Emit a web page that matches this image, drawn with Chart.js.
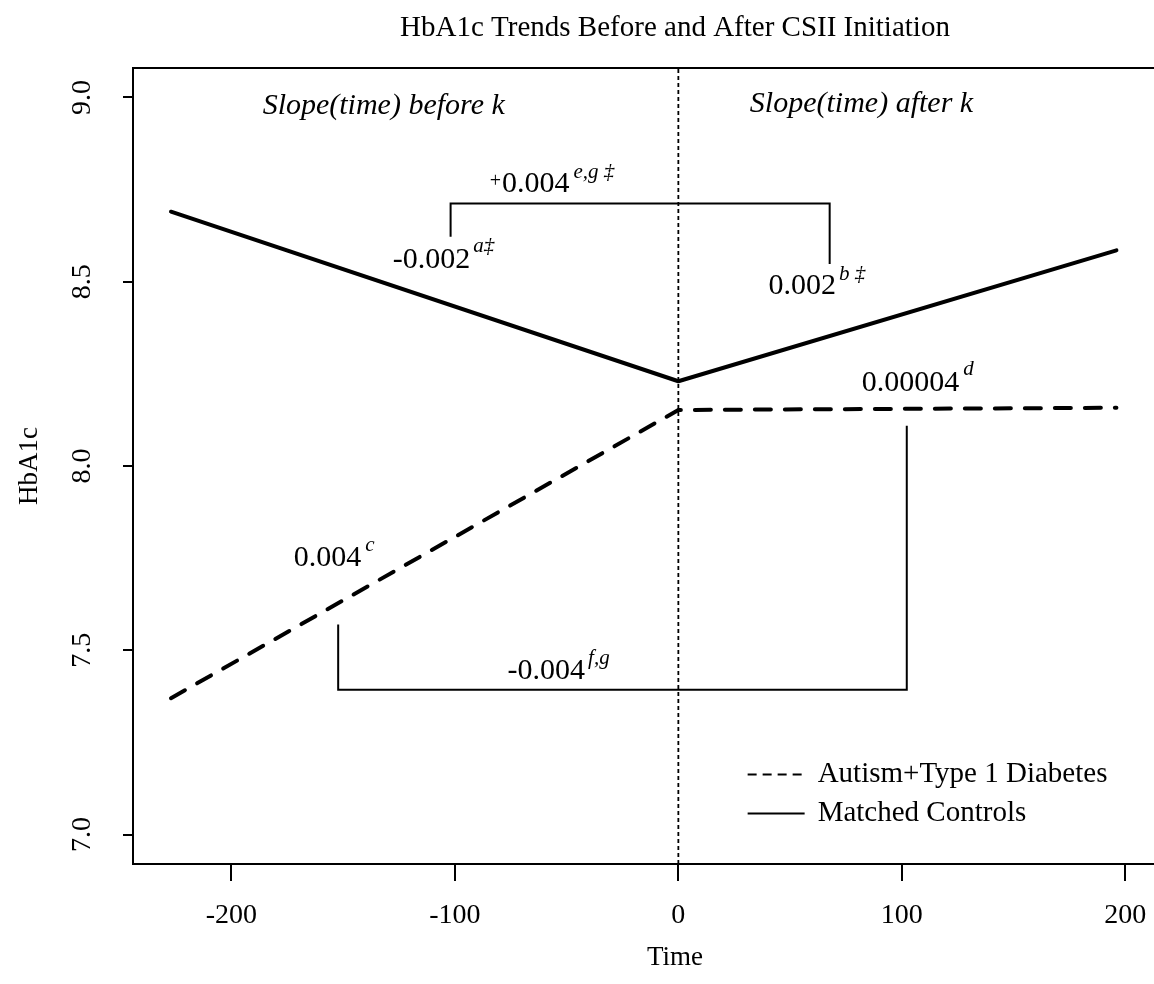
<!DOCTYPE html>
<html>
<head>
<meta charset="utf-8">
<title>HbA1c Trends Before and After CSII Initiation</title>
<script src="https://cdn.jsdelivr.net/npm/chart.js@4.4.1/dist/chart.umd.min.js"></script>
<style>
    html, body { margin: 0; padding: 0; background: #fff; overflow: hidden; }
    #wrap { width: 1350px; height: 984px; }
</style>
</head>
<body>
<div id="wrap"><canvas id="hba1c-chart" width="1350" height="984"></canvas></div>
<script>
// Main Declarations.
const timePoints = [-227, 0, 196];
const autismHbA1c = [7.37, 8.152, 8.158];
const controlHbA1c = [8.69, 8.23, 8.585];
const seriesLabels = ['Autism+Type 1 Diabetes', 'Matched Controls'];

const xTicks = [-200, -100, 0, 100, 200];
const yTicks = [7.0, 7.5, 8.0, 8.5, 9.0];
const xRange = [-244, 241];
const yRange = [6.92, 9.08];

// Brackets joining the slopes that are compared (data units).
const upperBracketX = [-101.9, -101.9, 67.7, 67.7];
const upperBracketY = [8.622, 8.712, 8.712, 8.548];
const lowerBracketX = [-152.2, -152.2, 102.2, 102.2];
const lowerBracketY = [7.57, 7.393, 7.393, 8.109];

const serif = 'Liberation Serif';

// Slope labels, anchored at their left edge in data units.
const annotations = [
    { x: -186, y: 8.976, parts: [{ text: 'Slope(time) before k', size: 30, italic: true }] },
    { x: 32, y: 8.981, parts: [{ text: 'Slope(time) after k', size: 30, italic: true }] },
    { x: -84.4, y: 8.766, parts: [
        { text: '+', size: 20, rise: 2, gap: 1 },
        { text: '0.004', size: 30, gap: 4 },
        { text: 'e,g \u2021', size: 21, italic: true, rise: 11 }] },
    { x: -127.8, y: 8.56, parts: [
        { text: '-0.002', size: 30, gap: 3 },
        { text: 'a\u2021', size: 21, italic: true, rise: 13 }] },
    { x: 40.3, y: 8.489, parts: [
        { text: '0.002', size: 30, gap: 3 },
        { text: 'b \u2021', size: 21, italic: true, rise: 11 }] },
    { x: 82, y: 8.226, parts: [
        { text: '0.00004', size: 30, gap: 4 },
        { text: 'd', size: 21, italic: true, rise: 13 }] },
    { x: -172.1, y: 7.75, parts: [
        { text: '0.004', size: 30, gap: 4 },
        { text: 'c', size: 21, italic: true, rise: 13 }] },
    { x: -76.4, y: 7.443, parts: [
        { text: '-0.004', size: 30, gap: 3 },
        { text: 'f,g', size: 21, italic: true, rise: 13 }] }
];

const legendAnchor = { x: 31, y: 7.163 };

function toPoints(xs, ys) {
    return xs.map((x, i) => ({ x: x, y: ys[i] }));
}

// Frame around the plot region.
const framePlugin = {
    id: 'frame',
    afterDraw(chart) {
        const { ctx, chartArea } = chart;
        ctx.save();
        ctx.strokeStyle = '#000';
        ctx.lineWidth = 2;
        ctx.strokeRect(chartArea.left, chartArea.top, chartArea.right - chartArea.left, chartArea.bottom - chartArea.top);
        ctx.restore();
    }
};

// Slope labels with superscripts.
const labelPlugin = {
    id: 'slopeLabels',
    afterDatasetsDraw(chart) {
        const { ctx, scales } = chart;
        ctx.save();
        ctx.fillStyle = '#000';
        ctx.textBaseline = 'middle';
        ctx.textAlign = 'left';
        annotations.forEach(a => {
            let cursor = scales.x.getPixelForValue(a.x);
            const y = scales.y.getPixelForValue(a.y);
            a.parts.forEach(p => {
                ctx.font = `${p.italic ? 'italic ' : ''}${p.size}px "${serif}"`;
                ctx.fillText(p.text, cursor, y - (p.rise || 0));
                cursor += ctx.measureText(p.text).width + (p.gap || 0);
            });
        });
        ctx.restore();
    }
};

// Legend inside the plot, no box.
const legendPlugin = {
    id: 'plotLegend',
    afterDraw(chart) {
        const { ctx, scales } = chart;
        const x0 = scales.x.getPixelForValue(legendAnchor.x);
        const y0 = scales.y.getPixelForValue(legendAnchor.y);
        const styles = [[9, 6], []];
        ctx.save();
        ctx.fillStyle = '#000';
        ctx.strokeStyle = '#000';
        ctx.lineWidth = 2;
        ctx.font = `29px "${serif}"`;
        ctx.textBaseline = 'middle';
        seriesLabels.forEach((label, i) => {
            const y = y0 + i * 39;
            ctx.setLineDash(styles[i]);
            ctx.beginPath();
            ctx.moveTo(x0, y);
            ctx.lineTo(x0 + 57, y);
            ctx.stroke();
            ctx.fillText(label, x0 + 70, y);
        });
        ctx.restore();
    }
};

const tickFont = { family: serif, size: 28 };
const titleFont = { family: serif, size: 27 };

new Chart(document.querySelector('#hba1c-chart'), {
    type: 'line',
    data: {
        datasets: [
            {
                label: 'CSII initiation',
                data: toPoints([0, 0], yRange),
                borderColor: '#000',
                borderWidth: 1.8,
                borderDash: [4, 3]
            },
            {
                label: seriesLabels[0],
                data: toPoints(timePoints, autismHbA1c),
                borderColor: '#000',
                borderWidth: 4,
                borderDash: [16, 14],
                borderCapStyle: 'round'
            },
            {
                label: seriesLabels[1],
                data: toPoints(timePoints, controlHbA1c),
                borderColor: '#000',
                borderWidth: 4,
                borderCapStyle: 'round',
                borderJoinStyle: 'round'
            },
            {
                label: 'before vs after',
                data: toPoints(upperBracketX, upperBracketY),
                borderColor: '#000',
                borderWidth: 2
            },
            {
                label: 'autism vs controls',
                data: toPoints(lowerBracketX, lowerBracketY),
                borderColor: '#000',
                borderWidth: 2
            }
        ]
    },
    options: {
        responsive: false,
        animation: false,
        events: [],
        layout: { padding: { left: 0, right: 133, top: 0, bottom: 0 } },
        elements: { point: { radius: 0 }, line: { tension: 0, fill: false } },
        plugins: {
            legend: { display: false },
            tooltip: { enabled: false },
            title: {
                display: true,
                fullSize: false,
                text: 'HbA1c Trends Before and After CSII Initiation',
                color: '#000',
                font: { family: serif, size: 29, weight: 'normal' },
                padding: { top: 11, bottom: 22.2 }
            }
        },
        scales: {
            x: {
                type: 'linear',
                min: xRange[0],
                max: xRange[1],
                afterBuildTicks: axis => { axis.ticks = xTicks.map(v => ({ value: v })); },
                afterFit: axis => { axis.height = 120; },
                border: { display: false },
                grid: { drawOnChartArea: false, drawTicks: true, tickLength: 17, color: '#000', lineWidth: 2 },
                ticks: { color: '#000', font: tickFont, padding: 18, maxRotation: 0, callback: v => String(v) },
                title: { display: true, text: 'Time', color: '#000', font: titleFont, padding: { top: 0, bottom: 10 } }
            },
            y: {
                type: 'linear',
                min: yRange[0],
                max: yRange[1],
                afterBuildTicks: axis => { axis.ticks = yTicks.map(v => ({ value: v })); },
                afterFit: axis => { axis.width = 133; },
                border: { display: false },
                grid: { drawOnChartArea: false, drawTicks: true, tickLength: 10, color: '#000', lineWidth: 2 },
                ticks: { color: '#000', font: tickFont, padding: 23, minRotation: 90, maxRotation: 90, crossAlign: 'center', callback: v => v.toFixed(1) },
                title: { display: true, text: 'HbA1c', color: '#000', font: titleFont, padding: { top: 14, bottom: 0 } }
            }
        }
    },
    plugins: [framePlugin, labelPlugin, legendPlugin]
});
</script>
</body>
</html>
